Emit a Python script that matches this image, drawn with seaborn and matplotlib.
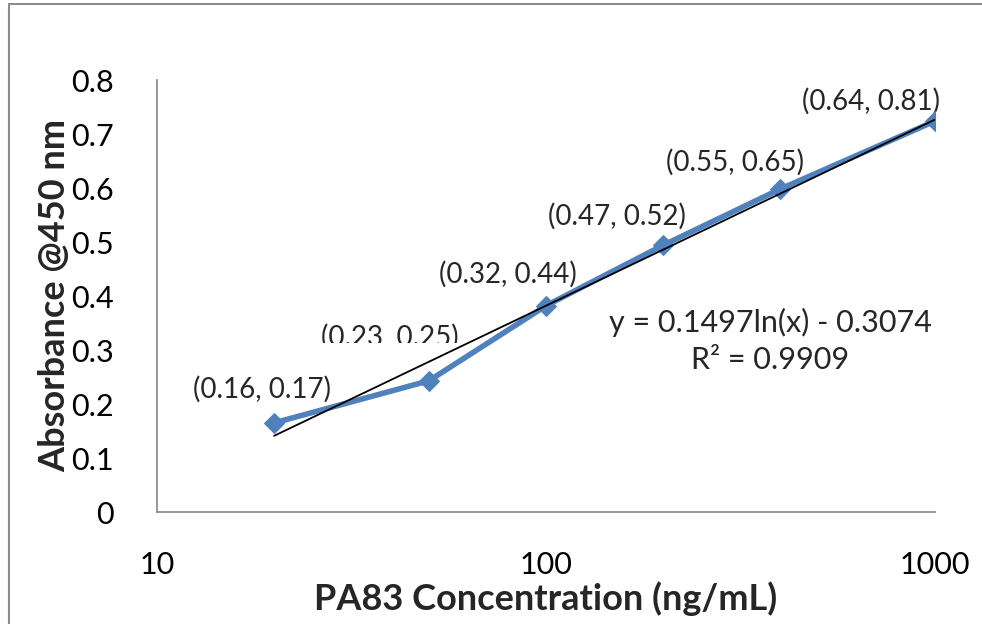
import matplotlib
matplotlib.use("Agg")
import matplotlib.pyplot as plt
import seaborn as sns
import numpy as np
import pandas as pd
from matplotlib.lines import Line2D
from matplotlib.patches import Rectangle

# Data
concentration = [20, 50, 100, 200, 400, 1000]
absorbance = [0.165, 0.243, 0.382, 0.494, 0.598, 0.724]
point_labels = ["(0.16, 0.17)", "(0.23, 0.25)", "(0.32, 0.44)",
                "(0.47, 0.52)", "(0.55, 0.65)", "(0.64, 0.81)"]
fit_a, fit_b = 0.1497, -0.3074
y_ticks = [0, 0.1, 0.2, 0.3, 0.4, 0.5, 0.6, 0.7, 0.8]
x_ticks = [10, 100, 1000]

sns.set_style("white")
plt.rcParams['font.family'] = ['Lato', 'DejaVu Sans']

W, H = 982, 624
fig = plt.figure(figsize=(W / 100, H / 100), dpi=100)
ax = fig.add_axes([157 / W, 1 - 512 / H, (935 - 157) / W, (512 - 80) / H])

df = pd.DataFrame({"conc": concentration, "abs": absorbance})
sns.lineplot(data=df, x="conc", y="abs", ax=ax, color="#4F81BD", linewidth=4,
             marker="D", markersize=10, markeredgecolor="#4F81BD", zorder=7)

xf = np.geomspace(concentration[0], concentration[-1], 50)
ax.plot(xf, fit_a * np.log(xf) + fit_b, color="black", linewidth=1.3, zorder=8)

ax.set_xscale("log")
ax.set_xlim(10, 1000)
ax.set_ylim(0, 0.8)
ax.set_yticks(y_ticks)
ax.set_yticklabels([f"{v:g}" for v in y_ticks])
ax.set_xticks(x_ticks)
ax.set_xticklabels([str(v) for v in x_ticks])
ax.minorticks_off()
ax.tick_params(axis="both", length=0, labelsize=22, colors="black")
ax.tick_params(axis="y", pad=31)
ax.tick_params(axis="x", pad=28)

for s in ["top", "right"]:
    ax.spines[s].set_visible(False)
for s in ["left", "bottom"]:
    ax.spines[s].set_color("#868686")
    ax.spines[s].set_linewidth(1.2)

ax.set_xlabel("PA83 Concentration (ng/mL)", fontsize=26, fontweight="bold", labelpad=2)
ax.set_ylabel("Absorbance @450 nm", fontsize=26, fontweight="bold", labelpad=0)

offsets = [(-12, 34), (-39, 43), (-38, 31), (-46, 29), (-45, 27), (-64, 20)]
for xv, yv, lab, (dx, dy) in zip(concentration, absorbance, point_labels, offsets):
    ax.annotate(lab, (xv, yv), xytext=(dx, dy), textcoords="offset pixels",
                ha="center", va="center", fontsize=20, zorder=5)

# the partly hidden label
ax.add_patch(Rectangle((318 / W, 1 - 352 / H), 140 / W, 9 / H,
                       transform=fig.transFigure, facecolor="white",
                       edgecolor="none", zorder=6))

ax.text(770 / W, 1 - 322 / H, "y = 0.1497ln(x) - 0.3074", transform=fig.transFigure,
        ha="center", va="center", fontsize=22)
ax.text(770 / W, 1 - 360 / H, "R² = 0.9909", transform=fig.transFigure,
        ha="center", va="center", fontsize=22)

# chart area border
fig.add_artist(Line2D([9 / W, 9 / W], [1 - 4 / H, 0], transform=fig.transFigure,
                      color="#8c8c8c", linewidth=1.5))
fig.add_artist(Line2D([9 / W, 1], [1 - 4 / H, 1 - 4 / H], transform=fig.transFigure,
                      color="#8c8c8c", linewidth=1.5))

fig.savefig("out.png", dpi=100)
